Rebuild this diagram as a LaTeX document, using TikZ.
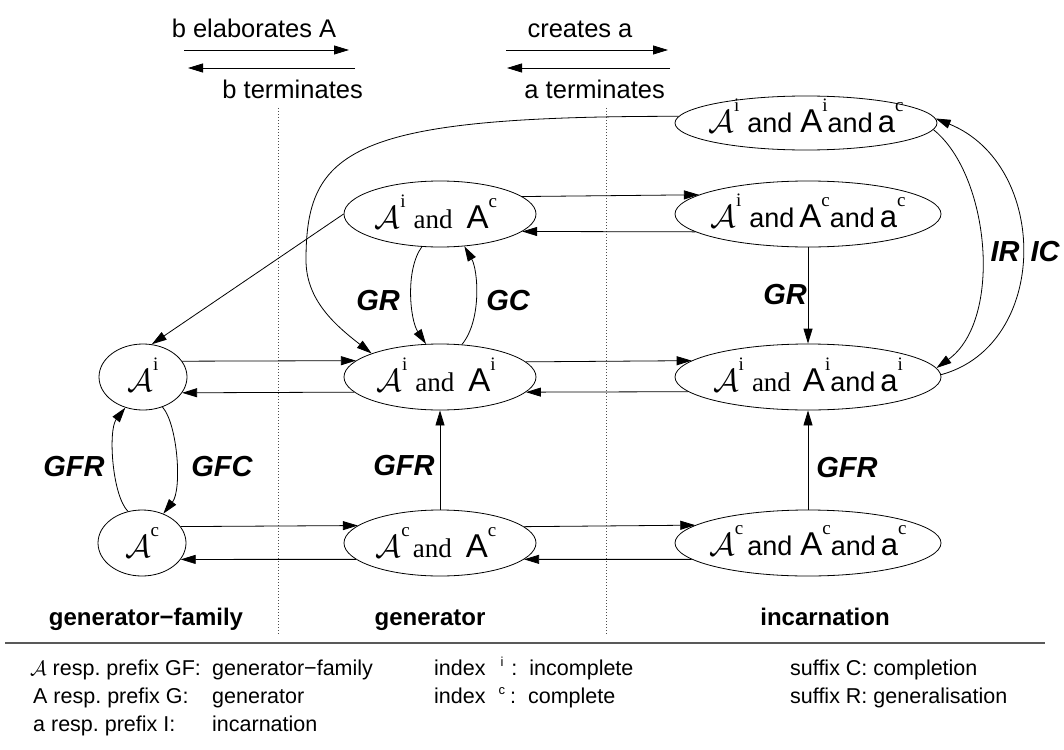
\documentclass[tikz,border=0pt]{standalone}
\usepackage{graphicx}
\usepackage{fontspec}
\setmainfont{Liberation Sans}
\newfontfamily\serifont{Liberation Serif}
\usetikzlibrary{shapes.geometric,arrows.meta,calc}
\frenchspacing
\newcommand\Ac{\scalebox{3.2}{$\mathcal{A}$}}
\newcommand\Ab{{\fontsize{33}{33}\selectfont A}}
\newcommand\ix[1]{\raisebox{21pt}{\fontsize{19}{19}\selectfont\serifont #1}}
\newcommand\andS{{\fontsize{27}{27}\selectfont and}}
\newcommand\andR{{\fontsize{27}{27}\selectfont\serifont and}}
\newcommand\sma{{\fontsize{31}{31}\selectfont a}}
\newcommand\lsup[1]{\raisebox{9pt}{\fontsize{13}{13}\selectfont #1}}
\begin{document}
\begin{tikzpicture}[x=1pt,y=-1pt,
  ell/.style={draw, ellipse, inner sep=0pt, line width=0.8pt},
  sL/.style={ell, minimum width=88pt, minimum height=66pt},
  sG/.style={ell, minimum width=192pt, minimum height=66pt},
  sI/.style={ell, minimum width=266pt, minimum height=66pt},
  txt/.style={inner sep=0pt, anchor=base},
  arr/.style={line width=0.8pt, -{Triangle[length=15pt,width=9pt]}},
  lab/.style={inner sep=0pt, font=\fontsize{29}{29}\selectfont\bfseries\itshape},
  hdr/.style={inner sep=0pt, font=\fontsize{25.5}{30}\selectfont},
  bot/.style={inner sep=0pt, anchor=base, font=\fontsize{24}{28}\selectfont\bfseries},
  leg/.style={inner sep=0pt, anchor=base west, font=\fontsize{21.5}{25}\selectfont},
  dotline/.style={line width=0.7pt, dash pattern=on 0.8pt off 2.2pt, black!70},
  rulel/.style={line width=1.3pt, black!65}]
\useasboundingbox (0,0) rectangle (1064,749);

% header
\node[hdr, anchor=base] (t1) at (254,38) {b elaborates A};
\node[hdr, anchor=base east] (t2) at (363,99) {b terminates};
\node[hdr, anchor=base] (t3) at (580,38) {creates a};
\node[hdr, anchor=base east] (t4) at (665,99) {a terminates};
\coordinate (h1a) at (184,50); \coordinate (h1b) at (349,50);
\coordinate (h2a) at (355,68); \coordinate (h2b) at (188,68);
\coordinate (h3a) at (506,50); \coordinate (h3b) at (668,50);
\coordinate (h4a) at (670,68); \coordinate (h4b) at (507,68);
\draw[arr] (h1a) -- (h1b);
\draw[arr] (h2a) -- (h2b);
\draw[arr] (h3a) -- (h3b);
\draw[arr] (h4a) -- (h4b);

% dotted separators
\draw[dotline] (278,108) -- (278,635);
\draw[dotline] (606,108) -- (606,635);

% ellipses
\node[ell, minimum width=262pt, minimum height=54pt] (I0) at (806,123) {};
\node[sG] (G1) at (440,214) {};
\node[sI] (I1) at (808,214) {};
\node[sL] (L2) at (143,377) {};
\node[sG] (G2) at (440,377) {};
\node[sI] (I2) at (808,377) {};
\node[sL] (L3) at (142,543) {};
\node[sG] (G3) at (440,543) {};
\node[sI] (I3) at (808,543) {};

% ellipse texts
\node[txt] (tI0) at ($(I0)+(0,9)$) {\Ac\ix{i}\hspace{8pt}\andS\hspace{8pt}\Ab\ix{i}\andS\hspace{5pt}\sma\ix{c}};
\node[txt] (tG1) at ($(G1)+(-4,14)$) {\Ac\ix{i}\hspace{8pt}\andR\hspace{14pt}\Ab\ix{c}};
\node[txt] (tI1) at ($(I1)+(0,13)$) {\Ac\ix{i}\hspace{8pt}\andS\hspace{5pt}\Ab\ix{c}\andS\hspace{5pt}\sma\ix{c}};
\node[txt] (tL2) at ($(L2)+(0,14)$) {\Ac\ix{i}};
\node[txt] (tG2) at ($(G2)+(-4,14)$) {\Ac\ix{i}\hspace{8pt}\andR\hspace{14pt}\Ab\ix{i}};
\node[txt] (tI2) at ($(I2)+(0,14)$) {\Ac\ix{i}\hspace{8pt}\andR\hspace{12pt}\Ab\ix{i}\andS\hspace{5pt}\sma\ix{i}};
\node[txt] (tL3) at ($(L3)+(0,14)$) {\Ac\ix{c}};
\node[txt] (tG3) at ($(G3)+(-4,14)$) {\Ac\ix{c}\hspace{3pt}\andR\hspace{14pt}\Ab\ix{c}};
\node[txt] (tI3) at ($(I3)+(0,12)$) {\Ac\ix{c}\hspace{4pt}\andS\hspace{8pt}\Ab\ix{c}\andS\hspace{5pt}\sma\ix{c}};

% horizontal arrows
\draw[arr] (G1.12.6) -- (I1.170.83);
\draw[arr] (I1.189.17) -- (G1.-12.6);
\draw[arr] (L2.22.57) -- (G2.169.21);
\draw[arr] (G2.190.79) -- (L2.-22.57);
\draw[arr] (G2.10.79) -- (I2.172.17);
\draw[arr] (I2.187.83) -- (G2.-10.79);
\draw[arr] (L3.23.4) -- (G3.168.8);
\draw[arr] (G3.191.2) -- (L3.-23.4);
\draw[arr] (G3.11.2) -- (I3.171.85);
\draw[arr] (I3.188.15) -- (G3.-11.2);

% vertical arrows
\draw[arr] (G3) -- (G2);
\draw[arr] (I3) -- (I2);
\draw[arr] (I1) -- (I2);

% curved arrows
\draw[arr] (G1.241) .. controls (405,270) and (410,320) .. (G2.113);
\draw[arr] (G2.56) .. controls (482,320) and (478,270) .. (G1.-53);
\draw[arr] (L3.114) .. controls (112,495) and (108,430) .. (L2.240);
\draw[arr] (L2.-57) .. controls (178,425) and (182,490) .. (L3.54);
\draw[arr] (I0.-3) .. controls (990,175) and (1003,320) .. (I2.4);
\draw[arr] (I2.1) .. controls (1050,345) and (1050,165) .. (I0.2);
\draw[arr] (I0.177) .. controls (350,116) and (306,150) .. (306,260)
  .. controls (306,300) and (335,325) .. (G2.161);
\draw[arr] (G1.west) -- (L2.75);

% edge labels
\node[lab] (lGFR1) at (74,467) {GFR};
\node[lab] (lGFC) at (222,467) {GFC};
\node[lab] (lGR1) at (378,301) {GR};
\node[lab] (lGC) at (508,301) {GC};
\node[lab] (lGFR2) at (404,466) {GFR};
\node[lab] (lGR2) at (785,295) {GR};
\node[lab] (lGFR3) at (847,468) {GFR};
\node[lab] (lIR) at (1005,252) {IR};
\node[lab] (lIC) at (1045,252) {IC};

% column titles
\node[bot] (b1) at (146,625) {generator−family};
\node[bot] (b2) at (430,625) {generator};
\node[bot] (b3) at (825,625) {incarnation};

% rule
\draw[rulel] (5,643) -- (1045,643);

% legend
\node[leg] (g1) at (30,675) {$\mathcal{A}$ resp. prefix GF:};
\node[leg] (g2) at (33,703) {A resp. prefix G:};
\node[leg] (g3) at (33,731) {a resp. prefix I:};
\node[leg] (g4) at (212,675) {generator−family};
\node[leg] (g5) at (212,703) {generator};
\node[leg] (g6) at (212,731) {incarnation};
\node[leg] (g7) at (434,675) {index\hspace{15pt}\lsup{i}\hspace{8pt}:\hspace{12pt}incomplete};
\node[leg] (g8) at (434,703) {index\hspace{13pt}\lsup{c}\hspace{5pt}:\hspace{12pt}complete};
\node[leg] (g9) at (790,675) {suffix C: completion};
\node[leg] (g10) at (790,703) {suffix R: generalisation};
\end{tikzpicture}
\end{document}
